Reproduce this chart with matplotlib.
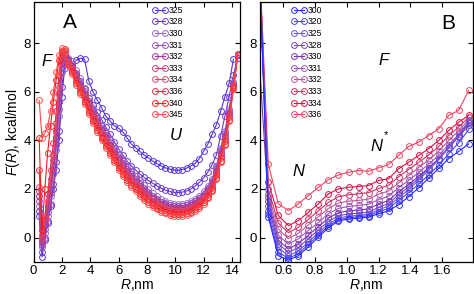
import numpy as np
import matplotlib
matplotlib.use("Agg")
import matplotlib.pyplot as plt

plt.rcParams['font.family'] = ['Liberation Sans', 'DejaVu Sans']
plt.rcParams['mathtext.fontset'] = 'custom'
plt.rcParams['mathtext.rm'] = 'Liberation Sans'
plt.rcParams['mathtext.it'] = 'Liberation Sans:italic'

nan = np.nan

# ---------------- Panel A data ----------------
R_A = [0.4, 0.6, 0.8, 1.0, 1.2, 1.4, 1.6, 1.8, 2.0, 2.2,
       2.4, 2.7, 3.0, 3.3, 3.6, 3.9, 4.2, 4.5, 4.8, 5.1, 5.4, 5.7, 6.0, 6.3,
       6.6, 6.9, 7.2, 7.5, 7.8, 8.1, 8.4, 8.7, 9.0, 9.3, 9.6, 9.9, 10.2, 10.5,
       10.8, 11.1, 11.4, 11.7, 12.0, 12.3, 12.6, 12.9, 13.2, 13.5, 13.8, 14.1, 14.4]

temps_A = ['325', '328', '330', '331', '332', '333', '334', '336', '340', '345']
colors_A = ['#5533dd', '#6a3ad0', '#9a66cc', '#9a4fbf', '#a3329a', '#c24077',
            '#d64a6e', '#e8304e', '#ff1a1a', '#ff4a4a']

F_325 = [0.9, -0.8, -0.1, 0.6, 1.3, 2.0, 2.8, 4.0, 5.8, 7.0,
         7.2, 7.0, 7.3, 7.38, 7.35, 6.45, 6.0, 5.65, 5.35, 5.0, 4.8, 4.6, 4.5, 4.35,
         4.1, 3.85, 3.7, 3.55, 3.4, 3.28, 3.15, 3.05, 2.95, 2.87, 2.82, 2.78, 2.77, 2.8,
         2.86, 2.95, 3.05, 3.25, 3.55, 3.85, 4.25, 4.65, 5.2, 5.8, 6.35, 7.35, nan]
F_328 = [1.1, -0.6, 0.0, 0.7, 1.4, 2.2, 3.1, 4.4, 6.2, 7.2,
         7.3, 7.05, 6.75, 6.45, 6.1, 5.75, 5.45, 5.15, 4.85, 4.55, 4.25, 3.95, 3.65, 3.4,
         3.15, 2.95, 2.78, 2.62, 2.48, 2.35, 2.24, 2.13, 2.03, 1.95, 1.9, 1.86, 1.85, 1.87,
         1.92, 2.0, 2.12, 2.28, 2.45, 2.7, 3.0, 3.4, 4.2, 5.0, 5.8, 6.7, 7.4]
F_330 = [1.3, -0.4, 0.2, 0.9, 1.7, 2.6, 3.6, 5.0, 6.8, 7.4,
         7.4, 7.25, 6.9, 6.55, 6.15, 5.75, 5.35, 5.0, 4.65, 4.35, 4.05, 3.75, 3.45, 3.2,
         2.95, 2.75, 2.55, 2.35, 2.15, 1.98, 1.82, 1.69, 1.57, 1.5, 1.44, 1.4, 1.39, 1.4,
         1.44, 1.5, 1.6, 1.73, 1.9, 2.12, 2.43, 2.95, 3.7, 4.4, 5.3, 6.4, 7.55]
F_331 = [1.5, -0.3, 0.35, 1.05, 1.85, 2.8, 3.8, 5.3, 7.0, 7.5,
         7.35, 7.16, 6.79, 6.43, 6.03, 5.63, 5.23, 4.88, 4.53, 4.23, 3.93, 3.63, 3.33, 3.08,
         2.83, 2.63, 2.43, 2.23, 2.04, 1.87, 1.72, 1.59, 1.48, 1.41, 1.35, 1.31, 1.3, 1.31,
         1.35, 1.41, 1.51, 1.64, 1.81, 2.03, 2.33, 2.85, 3.59, 4.29, 5.21, 6.35, 7.54]
F_332 = [1.7, -0.2, 0.5, 1.2, 2.0, 3.0, 4.1, 5.6, 7.2, 7.5,
         7.3, 7.08, 6.7, 6.33, 5.93, 5.53, 5.13, 4.78, 4.43, 4.13, 3.83, 3.53, 3.23, 2.98,
         2.73, 2.53, 2.33, 2.13, 1.95, 1.78, 1.63, 1.51, 1.4, 1.33, 1.27, 1.23, 1.22, 1.23,
         1.27, 1.33, 1.43, 1.56, 1.73, 1.95, 2.25, 2.76, 3.5, 4.2, 5.13, 6.3, 7.53]
F_333 = [1.9, -0.1, 0.6, 1.35, 2.2, 3.2, 4.4, 5.9, 7.3, 7.6,
         7.25, 7.02, 6.62, 6.25, 5.85, 5.45, 5.05, 4.7, 4.35, 4.05, 3.75, 3.45, 3.15, 2.9,
         2.65, 2.45, 2.25, 2.06, 1.87, 1.71, 1.57, 1.44, 1.34, 1.27, 1.21, 1.17, 1.16, 1.17,
         1.21, 1.27, 1.37, 1.5, 1.67, 1.89, 2.18, 2.7, 3.42, 4.12, 5.07, 6.26, 7.53]
F_334 = [2.1, 0.0, 0.75, 1.5, 2.4, 3.4, 4.7, 6.2, 7.4, 7.6,
         7.2, 6.96, 6.55, 6.17, 5.77, 5.37, 4.97, 4.62, 4.27, 3.97, 3.67, 3.37, 3.07, 2.82,
         2.57, 2.37, 2.17, 1.98, 1.8, 1.64, 1.5, 1.38, 1.28, 1.21, 1.15, 1.11, 1.1, 1.11,
         1.15, 1.21, 1.31, 1.44, 1.61, 1.83, 2.12, 2.63, 3.35, 4.05, 5.01, 6.23, 7.52]
F_336 = [2.8, 0.1, 0.9, 1.8, 2.8, 3.9, 5.2, 6.7, 7.6, 7.7,
         7.15, 6.9, 6.48, 6.1, 5.7, 5.3, 4.9, 4.55, 4.2, 3.9, 3.6, 3.3, 3.0, 2.75,
         2.5, 2.3, 2.1, 1.91, 1.73, 1.57, 1.44, 1.32, 1.22, 1.15, 1.09, 1.05, 1.04, 1.05,
         1.09, 1.15, 1.25, 1.38, 1.55, 1.77, 2.06, 2.57, 3.28, 3.98, 4.95, 6.19, 7.52]
F_340 = [4.1, 0.3, 2.0, 3.5, 4.6, 5.6, 6.5, 7.3, 7.7, 7.75,
         7.1, 6.81, 6.37, 5.98, 5.58, 5.18, 4.78, 4.43, 4.08, 3.78, 3.48, 3.18, 2.88, 2.63,
         2.38, 2.18, 1.98, 1.8, 1.62, 1.47, 1.34, 1.22, 1.13, 1.06, 1.0, 0.96, 0.95, 0.96,
         1.0, 1.06, 1.16, 1.29, 1.46, 1.68, 1.96, 2.47, 3.17, 3.87, 4.86, 6.14, 7.51]
F_345 = [5.65, 4.1, 4.3, 4.6, 5.2, 6.0, 6.8, 7.5, 7.8, 7.7,
         7.1, 6.75, 6.3, 5.9, 5.5, 5.1, 4.7, 4.35, 4.0, 3.7, 3.4, 3.1, 2.8, 2.55,
         2.3, 2.1, 1.9, 1.72, 1.55, 1.4, 1.27, 1.16, 1.07, 1.0, 0.94, 0.9, 0.89, 0.9,
         0.94, 1.0, 1.1, 1.23, 1.4, 1.62, 1.9, 2.4, 3.1, 3.8, 4.8, 6.1, 7.5]
series_A = [F_325, F_328, F_330, F_331, F_332, F_333, F_334, F_336, F_340, F_345]

# ---------------- Panel B data ----------------
R_B = [0.442, 0.505, 0.568, 0.632, 0.695, 0.758, 0.821, 0.884, 0.947, 1.011, 1.074,
       1.137, 1.200, 1.263, 1.326, 1.389, 1.453, 1.516, 1.579, 1.642, 1.705, 1.768]

temps_B = ['300', '320', '325', '328', '330', '331', '332', '333', '334', '336']
colors_B = ['#2a2aff', '#4a44ee', '#6a55dd', '#7a44cc', '#7a33aa', '#9a55bb',
            '#b85a9a', '#cc3366', '#dd1144', '#ee4466']

G_300 = [12.5, 0.85, -0.75, -0.93, -0.75, -0.38, 0.02, 0.4, 0.68, 0.76, 0.8,
         0.84, 0.98, 1.1, 1.35, 1.68, 2.05, 2.45, 2.85, 3.25, 3.55, 3.86]
G_320 = [12.5, 0.95, -0.6, -0.86, -0.66, -0.28, 0.1, 0.47, 0.73, 0.82, 0.85,
         0.9, 1.06, 1.2, 1.52, 1.85, 2.2, 2.58, 2.98, 3.45, 3.9, 4.45]
G_325 = [12.5, 1.1, -0.4, -0.76, -0.55, -0.18, 0.2, 0.55, 0.8, 0.88, 0.91,
         0.96, 1.14, 1.3, 1.64, 1.98, 2.36, 2.78, 3.2, 3.7, 4.2, 4.8]
G_328 = [12.5, 1.3, -0.25, -0.62, -0.4, -0.05, 0.32, 0.66, 0.9, 0.97, 1.0,
         1.05, 1.24, 1.4, 1.76, 2.08, 2.44, 2.84, 3.24, 3.72, 4.2, 4.7]
G_330 = [7.9, 1.5, -0.1, -0.48, -0.25, 0.1, 0.45, 0.8, 1.02, 1.1, 1.13,
         1.18, 1.38, 1.52, 1.88, 2.18, 2.52, 2.88, 3.25, 3.7, 4.15, 4.62]
G_331 = [12.5, 1.65, 0.1, -0.28, -0.05, 0.3, 0.62, 0.98, 1.2, 1.28, 1.32,
         1.37, 1.56, 1.7, 2.05, 2.35, 2.68, 3.02, 3.38, 3.82, 4.25, 4.75]
G_332 = [12.5, 1.8, 0.35, -0.05, 0.18, 0.52, 0.85, 1.2, 1.42, 1.5, 1.53,
         1.58, 1.78, 1.92, 2.25, 2.55, 2.88, 3.2, 3.55, 4.0, 4.4, 4.85]
G_333 = [12.5, 2.0, 0.6, 0.2, 0.42, 0.75, 1.1, 1.45, 1.68, 1.76, 1.8,
         1.85, 2.02, 2.15, 2.5, 2.8, 3.1, 3.4, 3.75, 4.2, 4.55, 4.95]
G_334 = [12.5, 2.28, 0.91, 0.49, 0.7, 1.04, 1.39, 1.8, 2.0, 2.07, 2.1,
         2.14, 2.35, 2.42, 2.83, 3.1, 3.38, 3.66, 4.0, 4.41, 4.75, 5.03]
G_336 = [12.5, 3.04, 1.39, 1.11, 1.39, 1.73, 2.07, 2.38, 2.58, 2.69, 2.76,
         2.73, 2.87, 3.01, 3.38, 3.75, 3.93, 4.2, 4.48, 5.03, 5.24, 6.06]
series_B = [G_300, G_320, G_325, G_328, G_330, G_331, G_332, G_333, G_334, G_336]

# ---------------- Figure ----------------
fig = plt.figure(figsize=(4.74, 2.94), dpi=100)
axA = fig.add_axes([33.5 / 474, 1 - 262.3 / 294, 207 / 474, 260.3 / 294])
axB = fig.add_axes([260 / 474, 1 - 262.3 / 294, 213 / 474, 260.3 / 294])

line_kw = dict(marker='o', fillstyle='none', markersize=4.2, markeredgewidth=0.7,
               linewidth=0.8)

handlesA = []
for lab, col, F in zip(temps_A, colors_A, series_A):
    h, = axA.plot(R_A, F, color=col, label=lab, **line_kw)
    handlesA.append(h)

handlesB = {}
for lab, col, F in reversed(list(zip(temps_B, colors_B, series_B))):
    h, = axB.plot(R_B, F, color=col, label=lab, **line_kw)
    handlesB[lab] = h

for ax in (axA, axB):
    ax.set_ylim(-1.02, 9.7)
    ax.set_yticks([0, 2, 4, 6, 8])
    ax.tick_params(direction='in', top=True, right=True, length=3.5, width=0.8,
                   labelsize=9.5, pad=2)
    for s in ax.spines.values():
        s.set_linewidth(0.9)
    ax.set_xlabel('$R$,nm', fontsize=10, labelpad=0)

axA.set_xlim(0, 14.6)
axA.set_xticks([0, 2, 4, 6, 8, 10, 12, 14])
axA.set_ylabel('$F(R)$, kcal/mol', fontsize=10, labelpad=1)

axB.set_xlim(0.453, 1.795)
axB.set_xticks([0.6, 0.8, 1.0, 1.2, 1.4, 1.6])
axB.set_xticklabels(['0.6', '0.8', '1.0', '1.2', '1.4', '1.6'])

leg_kw = dict(frameon=False, fontsize=6.2, numpoints=2, handlelength=1.8,
              handletextpad=0.1, labelspacing=0.3, borderpad=0, borderaxespad=0,
              loc='upper left')
axA.legend(handlesA, temps_A, bbox_to_anchor=(0.575, 0.985), **leg_kw)
axB.legend([handlesB[t] for t in temps_B], temps_B, bbox_to_anchor=(0.148, 0.985), **leg_kw)

# annotations
axA.text(2.57, 8.84, 'A', fontsize=15, ha='center', va='center')
axA.text(0.93, 7.24, 'F', fontsize=12, style='italic', ha='center', va='center')
axA.text(10.0, 4.2, 'U', fontsize=12, style='italic', ha='center', va='center')
axB.text(1.642, 8.83, 'B', fontsize=15, ha='center', va='center')
axB.text(1.232, 7.31, 'F', fontsize=12, style='italic', ha='center', va='center')
axB.text(0.695, 2.71, 'N', fontsize=12, style='italic', ha='center', va='center')
axB.text(1.19, 3.74, 'N', fontsize=12, style='italic', ha='center', va='center')
axB.text(1.245, 4.2, '*', fontsize=8, ha='center', va='center')

fig.savefig('out.png', dpi=100)
